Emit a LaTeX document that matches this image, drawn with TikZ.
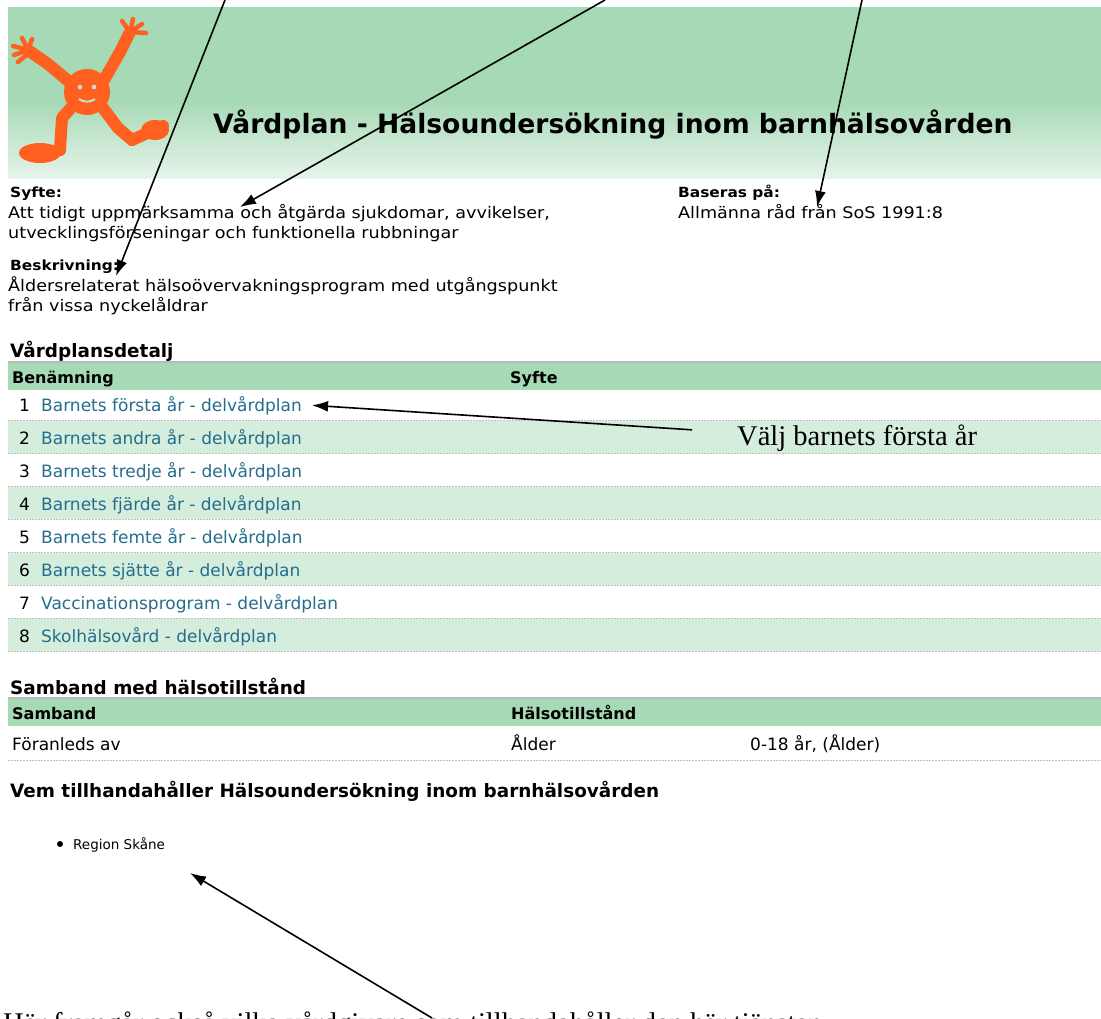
\documentclass[tikz,border=0pt]{standalone}
\usepackage{fontspec}
\setmainfont{DejaVu Sans}
\newfontfamily\widefont[FakeStretch=1.1]{DejaVu Sans}
\newfontfamily\notefont{Liberation Serif}
\usetikzlibrary{arrows.meta,calc}
\definecolor{hdrgreen}{RGB}{166,217,181}
\definecolor{hdrpale}{RGB}{230,244,234}
\definecolor{rowgreen}{RGB}{212,237,220}
\definecolor{linkblue}{RGB}{36,110,140}
\definecolor{figorange}{RGB}{255,96,32}
\definecolor{sepgrey}{RGB}{190,190,190}
\tikzset{
  every node/.style={inner sep=0pt, anchor=base west},
  titletext/.style={font=\fontsize{26.6}{26.6}\selectfont\bfseries},
  lbltext/.style={font=\widefont\fontsize{14}{14}\selectfont\bfseries},
  bodytext/.style={font=\widefont\fontsize{16}{16}\selectfont},
  sectext/.style={font=\fontsize{18.4}{18.4}\selectfont\bfseries},
  colhead/.style={font=\fontsize{16}{16}\selectfont\bfseries},
  rowtext/.style={font=\fontsize{17}{17}\selectfont},
  linktext/.style={rowtext, text=linkblue},
  listtext/.style={font=\fontsize{13.5}{13.5}\selectfont},
  notetext/.style={font=\notefont\fontsize{28.5}{28.5}\selectfont},
  sepline/.style={sepgrey, line width=1pt, dash pattern=on 2pt off 1pt},
  pointer/.style={-{Latex[length=16pt,width=11pt]}, line width=1.6pt},
  limb/.style={figorange, line width=12pt, line cap=round, line join=round},
  finger/.style={figorange, line width=4.5pt, line cap=round},
}
\begin{document}
\begin{tikzpicture}[x=1pt, y=-1pt]
			%%%%% START %%%%%
			\useasboundingbox (0,0) rectangle (1101,1018);
			\clip (0,0) rectangle (1101,1018);
			\fill[white] (0,0) rectangle (1101,1018);
			
			% header band
			\fill[hdrgreen] (8,7) rectangle (1101,100);
			\shade[top color=hdrgreen, bottom color=hdrpale] (8,100) rectangle (1101,178);
			
			% figure
			\draw[limb] (60,150) -- (62,118) -- (78,100);
			\draw[limb] (30,154) -- (60,150);
			\fill[figorange] (40,153) ellipse (21 and 10);
			\draw[limb] (100,104) -- (118,128) -- (132,140);
			\draw[limb] (132,140) -- (163,126);
			\fill[figorange] (155,130) ellipse (14 and 10);
			\draw[limb] (72,84) -- (48,64) -- (28,50);
			\draw[finger] (28,50) -- (13,46);
			\draw[finger] (28,50) -- (14,55);
			\draw[finger] (28,50) -- (22,38);
			\draw[finger] (28,50) -- (32,39);
			\draw[finger] (30,52) -- (18,62);
			\draw[limb] (104,80) -- (120,52) -- (130,32);
			\draw[finger] (130,32) -- (122,21);
			\draw[finger] (130,32) -- (133,19);
			\draw[finger] (130,32) -- (142,24);
			\draw[finger] (130,32) -- (146,33);
			\fill[figorange] (87,92) circle (23);
			\fill[hdrgreen!70!white] (80,87) circle (2.3);
			\fill[hdrgreen!70!white] (94,87) circle (2.3);
			\draw[hdrgreen!70!white, line width=2pt] (79,99) to[bend right=35] (95,99);
			
			\node[titletext] (title) at (213,133) {Vårdplan - Hälsoundersökning inom barnhälsovården};
			
			% info block
			\node[lbltext] (syfte) at (10,197) {Syfte:};
			\node[bodytext] (syfte1) at (8,218) {Att tidigt uppmärksamma och åtgärda sjukdomar, avvikelser,};
			\node[bodytext] (syfte2) at (8,238) {utvecklingsförseningar och funktionella rubbningar};
			\node[lbltext] (beskr) at (10,270) {Beskrivning:};
			\node[bodytext] (beskr1) at (8,291) {Åldersrelaterat hälsoövervakningsprogram med utgångspunkt};
			\node[bodytext] (beskr2) at (8,311) {från vissa nyckelåldrar};
			\node[lbltext] (baseras) at (678,197) {Baseras på:};
			\node[bodytext] (baseras1) at (678,218) {Allmänna råd från SoS 1991:8};
			
			% vardplansdetalj
			\node[sectext] (detalj) at (10,357) {Vårdplansdetalj};
			\fill[hdrgreen] (8,362) rectangle (1101,390);
			\draw[black!28, line width=1.5pt] (8,362) -- (1101,362);
			\node[colhead] (benamn) at (12,383) {Benämning};
			\node[colhead] (syftecol) at (510,383) {Syfte};
			\foreach \n/\txt in {1/Barnets första år - delvårdplan, 2/Barnets andra år - delvårdplan,
			                     3/Barnets tredje år - delvårdplan, 4/Barnets fjärde år - delvårdplan,
			                     5/Barnets femte år - delvårdplan, 6/Barnets sjätte år - delvårdplan,
			                     7/Vaccinationsprogram - delvårdplan, 8/Skolhälsovård - delvårdplan}{
			  \pgfmathsetmacro\rbot{387+33*\n}
			  \ifodd\n\else\fill[rowgreen] (8,\rbot-32) rectangle (1101,\rbot);\fi
			  \draw[sepline] (8,\rbot) -- (1101,\rbot);
			  \node[rowtext] (num\n) at (19,\rbot-9) {\n};
			  \node[linktext] (link\n) at (41,\rbot-9) {\txt};
			}
			
			% samband
			\node[sectext] (samband) at (10,694) {Samband med hälsotillstånd};
			\fill[hdrgreen] (8,698) rectangle (1101,726);
			\draw[black!28, line width=1.5pt] (8,698) -- (1101,698);
			\node[colhead] (sambcol) at (12,719) {Samband};
			\node[colhead] (halsocol) at (511,719) {Hälsotillstånd};
			\node[rowtext] (foranl) at (12,750) {Föranleds av};
			\node[rowtext] (alder) at (511,750) {Ålder};
			\node[rowtext] (alder2) at (750,750) {0-18 år, (Ålder)};
			\draw[sepline] (8,760) -- (1101,760);
			
			\node[sectext] (vem) at (10,797) {Vem tillhandahåller Hälsoundersökning inom barnhälsovården};
			\fill (60,844) circle (3);
			\node[listtext] (region) at (73,849) {Region Skåne};
			
			% notes and pointers
			\node[notetext] (valj) at (737,445) {Välj barnets första år};
			\node[notetext] (harfr) at (3,1032) {Här framgår också vilka vårdgivare som tillhandahåller den här tjänsten};
			
			\coordinate (tailA) at (225,0);
			\coordinate (tailB) at (605,0);
			\coordinate (tailC) at (862,0);
			\coordinate (tipA) at (116,276);
			\coordinate (tipB) at (240,207);
			\coordinate (tipC) at (817,207);
			\coordinate (tipR) at (190,873);
			\coordinate (tailR) at (432,1018);
			
			\draw[pointer] (tailA) -- (tipA);
			\draw[pointer] (tailB) -- (tipB);
			\draw[pointer] (tailC) -- (tipC);
			\draw[pointer, shorten <=45pt] ([yshift=5pt]valj.west) -- ([xshift=10pt]link1.east);
			\draw[pointer] (tailR) -- (tipR);
			%%%%% END %%%%%
\end{tikzpicture}
\end{document}
